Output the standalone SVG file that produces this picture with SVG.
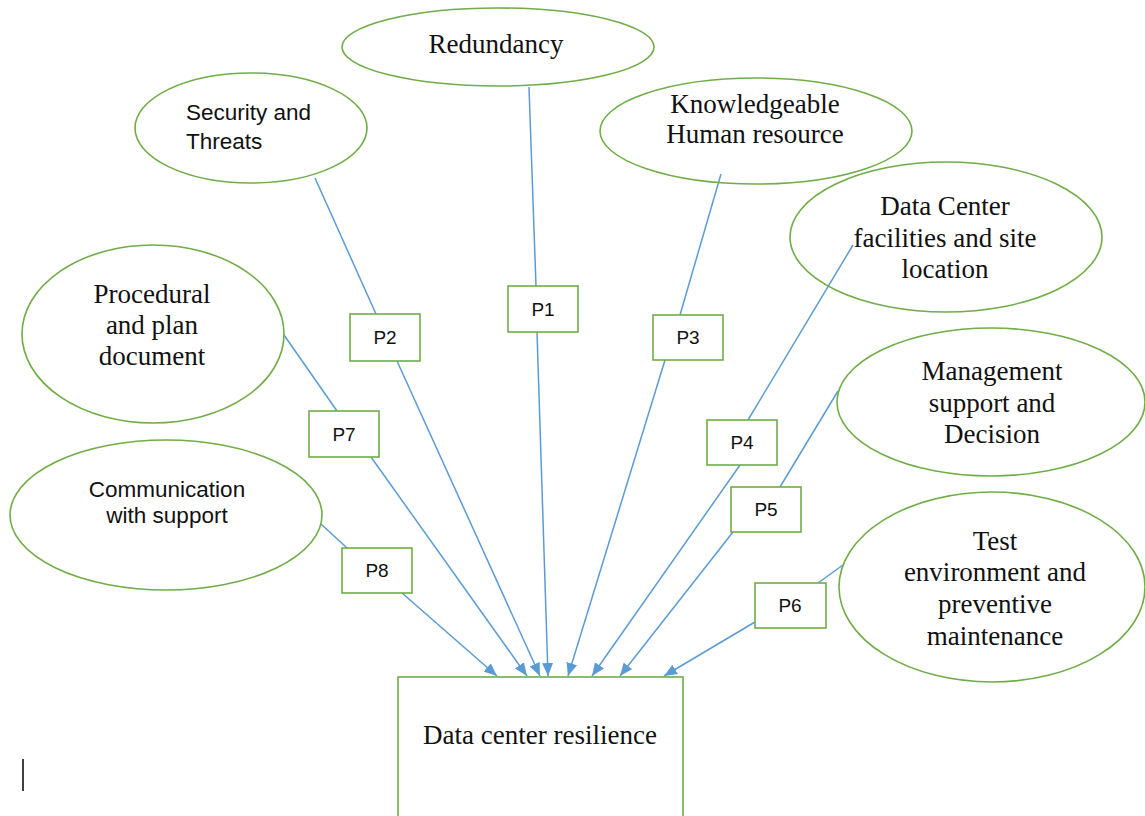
<svg xmlns="http://www.w3.org/2000/svg" width="1145" height="816" viewBox="0 0 1145 816">
<style>
.n{fill:none;stroke:#70AD47;stroke-width:1.6}
.b{fill:#fff;stroke:#70AD47;stroke-width:1.6}
.serif{font-family:"Liberation Serif","Times New Roman",serif;font-size:27px;fill:#111;text-anchor:middle}
.sans{font-family:"Liberation Sans",Arial,sans-serif;font-size:22.5px;fill:#111}
.p{font-family:"Liberation Sans",Arial,sans-serif;font-size:19px;fill:#111;text-anchor:middle}
.c{stroke:#5B9BD5;stroke-width:1.5;fill:none}
</style>
<defs>
<marker id="ah" markerUnits="userSpaceOnUse" markerWidth="14" markerHeight="12" refX="13" refY="5.5" orient="auto">
<path d="M0,0 L13,5.5 L0,11 Z" fill="#5B9BD5"/>
</marker>
</defs>
<rect width="1145" height="816" fill="#fff"/>

<g id="connectors">
<line class="c" x1="529" y1="87" x2="536" y2="286"/>
<line class="c" x1="537" y1="332" x2="548" y2="676" marker-end="url(#ah)"/>
<line class="c" x1="315" y1="178" x2="376" y2="314"/>
<line class="c" x1="397" y1="361" x2="540" y2="676" marker-end="url(#ah)"/>
<line class="c" x1="721" y1="174" x2="680" y2="315"/>
<line class="c" x1="665" y1="360" x2="568" y2="676" marker-end="url(#ah)"/>
<line class="c" x1="853" y1="245" x2="748" y2="420"/>
<line class="c" x1="740" y1="465" x2="592" y2="676" marker-end="url(#ah)"/>
<line class="c" x1="838" y1="391" x2="780" y2="487"/>
<line class="c" x1="733" y1="532" x2="620" y2="676" marker-end="url(#ah)"/>
<line class="c" x1="843" y1="565" x2="818" y2="583"/>
<line class="c" x1="755" y1="622" x2="664" y2="676" marker-end="url(#ah)"/>
<line class="c" x1="284" y1="335" x2="337" y2="411"/>
<line class="c" x1="371" y1="457" x2="527" y2="676" marker-end="url(#ah)"/>
<line class="c" x1="321" y1="524" x2="347" y2="548"/>
<line class="c" x1="402" y1="593" x2="497" y2="676" marker-end="url(#ah)"/>
</g>

<g id="redundancy">
<ellipse class="n" cx="498" cy="47" rx="156" ry="39"/>
<text class="serif" x="496" y="53">Redundancy</text>
</g>
<g id="security">
<ellipse class="n" cx="251" cy="128" rx="116" ry="55"/>
<text class="sans" x="186" y="120">Security and</text>
<text class="sans" x="186" y="149">Threats</text>
</g>
<g id="knowledge">
<ellipse class="n" cx="756" cy="131" rx="156" ry="53"/>
<text class="serif" x="755" y="113">Knowledgeable</text>
<text class="serif" x="755" y="143">Human resource</text>
</g>
<g id="datacenter">
<ellipse class="n" cx="946" cy="237" rx="156" ry="75"/>
<text class="serif" x="945" y="215">Data Center</text>
<text class="serif" x="945" y="247">facilities and site</text>
<text class="serif" x="945" y="278">location</text>
</g>
<g id="procedural">
<ellipse class="n" cx="153" cy="334" rx="131" ry="89"/>
<text class="serif" x="152" y="303">Procedural</text>
<text class="serif" x="152" y="334">and plan</text>
<text class="serif" x="152" y="365">document</text>
</g>
<g id="management">
<ellipse class="n" cx="991" cy="402" rx="154" ry="74"/>
<text class="serif" x="992" y="380">Management</text>
<text class="serif" x="992" y="412">support and</text>
<text class="serif" x="992" y="443">Decision</text>
</g>
<g id="communication">
<ellipse class="n" cx="166" cy="515" rx="156" ry="75"/>
<text class="sans" x="167" y="497" text-anchor="middle">Communication</text>
<text class="sans" x="167" y="523" text-anchor="middle">with support</text>
</g>
<g id="test">
<ellipse class="n" cx="992" cy="587" rx="153" ry="95"/>
<text class="serif" x="995" y="550">Test</text>
<text class="serif" x="995" y="581">environment and</text>
<text class="serif" x="995" y="613">preventive</text>
<text class="serif" x="995" y="645">maintenance</text>
</g>

<g id="p1"><rect class="b" x="508" y="286" width="70" height="46"/><text class="p" x="543" y="316">P1</text></g>
<g id="p2"><rect class="b" x="350" y="314" width="70" height="47"/><text class="p" x="385" y="344">P2</text></g>
<g id="p3"><rect class="b" x="653" y="315" width="70" height="45"/><text class="p" x="688" y="344">P3</text></g>
<g id="p4"><rect class="b" x="707" y="420" width="70" height="45"/><text class="p" x="742" y="449">P4</text></g>
<g id="p5"><rect class="b" x="731" y="487" width="70" height="45"/><text class="p" x="766" y="516">P5</text></g>
<g id="p6"><rect class="b" x="755" y="583" width="71" height="45"/><text class="p" x="790" y="612">P6</text></g>
<g id="p7"><rect class="b" x="309" y="411" width="70" height="46"/><text class="p" x="344" y="441">P7</text></g>
<g id="p8"><rect class="b" x="342" y="548" width="70" height="45"/><text class="p" x="377" y="577">P8</text></g>

<g id="resilience">
<rect class="b" x="398" y="677" width="285" height="150"/>
<text class="serif" x="540" y="744">Data center resilience</text>
</g>

<line x1="23" y1="759" x2="23" y2="791" stroke="#000" stroke-width="1.5"/>
</svg>
